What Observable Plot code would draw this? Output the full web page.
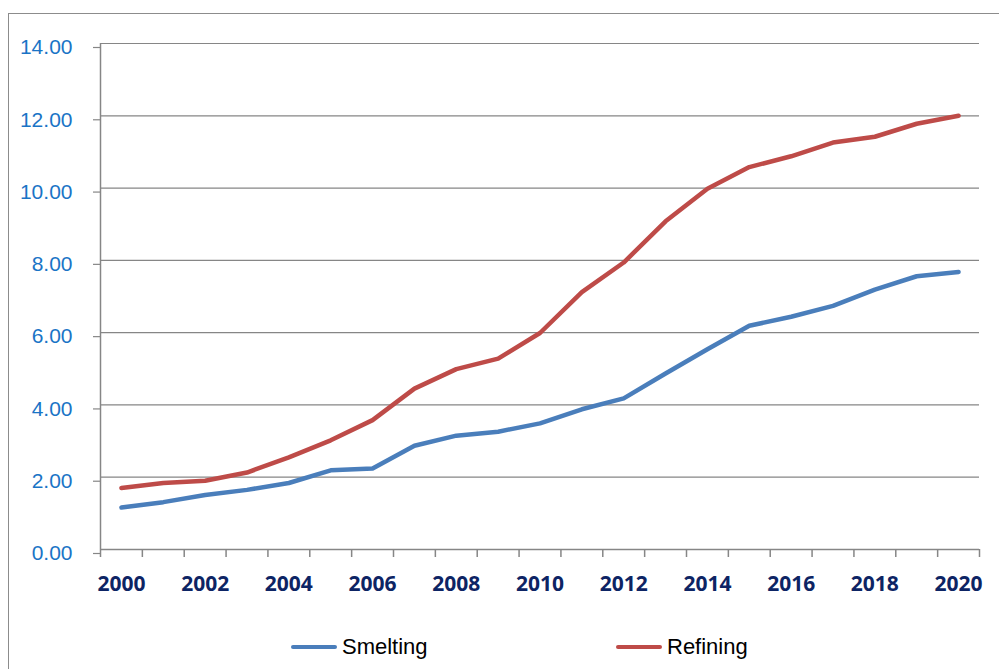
<!DOCTYPE html>
<html>
<head>
<meta charset="utf-8">
<script src="https://cdn.jsdelivr.net/npm/d3@7"></script>
<script src="https://cdn.jsdelivr.net/npm/@observablehq/plot@0.6"></script>
<style>
  html, body { margin: 0; padding: 0; background: #fff; overflow: hidden; }
  body { width: 999px; height: 669px; position: relative; }
  #frame {
    position: absolute; left: 8px; top: 13px; width: 1200px; height: 800px;
    border-left: 1.5px solid #8c8c8c; border-top: 1.5px solid #8c8c8c;
    box-sizing: border-box;
  }
  #chart { position: absolute; left: 0; top: -3px; }
  #chart svg { display: block; }
  .legend {
    position: absolute; top: 635px; left: 0; width: 999px; height: 30px;
    font-family: "Liberation Sans", Arial, sans-serif; font-size: 22px; color: #000;
  }
  .legend .item { position: absolute; top: 0; display: flex; align-items: center; height: 24px; }
  .legend .sw { display: inline-block; width: 46px; height: 4.5px; border-radius: 2px; margin-right: 5px; }
</style>
</head>
<body>
<div id="frame"></div>
<div id="chart"></div>
<div class="legend">
  <div class="item" style="left:291px"><span class="sw" style="background:#4a7ebb"></span>Smelting</div>
  <div class="item" style="left:616px"><span class="sw" style="background:#be4b48"></span>Refining</div>
</div>
<script>
// Years on the category axis
const years = d3.range(2000, 2021);
// Smelting capacity series
const smelting = [1.16, 1.31, 1.51, 1.65, 1.84, 2.19, 2.24, 2.87, 3.15, 3.26, 3.49,
                  3.88, 4.18, 4.87, 5.54, 6.19, 6.44, 6.74, 7.19, 7.56, 7.68];
// Refining capacity series
const refining = [1.70, 1.84, 1.90, 2.13, 2.55, 3.02, 3.58, 4.45, 4.99, 5.28, 5.99,
                  7.12, 7.94, 9.08, 9.98, 10.58, 10.88, 11.26, 11.42, 11.78, 12.00];
// Axis ticks
const yTicks = [0, 2, 4, 6, 8, 10, 12, 14];
const xLabelYears = [2000, 2002, 2004, 2006, 2008, 2010, 2012, 2014, 2016, 2018, 2020];

const rows = [
  ...years.map((y, i) => ({year: y, value: smelting[i], series: "Smelting"})),
  ...years.map((y, i) => ({year: y, value: refining[i], series: "Refining"}))
];

// tick marks fall between categories, like a category axis
const boundaries = d3.range(years.length + 1).map(i => years[0] - 0.5 + i);

const grid = "#868686";

const chart = Plot.plot({
  width: 999,
  height: 615,
  marginLeft: 100,
  marginRight: 20,
  marginTop: 46,
  marginBottom: 63,
  style: {background: "transparent", overflow: "visible"},
  x: {domain: [years[0] - 0.5, years[years.length - 1] + 0.5]},
  y: {domain: [0, 14]},
  color: {domain: ["Smelting", "Refining"], range: ["#4a7ebb", "#be4b48"]},
  marks: [
    Plot.gridY(yTicks, {stroke: grid, strokeOpacity: 1, strokeWidth: 1.2}),
    Plot.ruleX([years[0] - 0.5], {stroke: grid, strokeWidth: 1.5}),
    Plot.ruleY([0], {stroke: grid, strokeWidth: 1.5}),
    Plot.axisY(yTicks, {
      tickSize: 7, tickPadding: 21, stroke: grid, strokeWidth: 1.2,
      tickFormat: d3.format(".2f"), label: null,
      fill: "#1a74c6", fontSize: 21, fontFamily: "Liberation Sans, Arial, sans-serif",
      dy: 4
    }),
    Plot.axisX(boundaries, {
      tickSize: 8, stroke: grid, strokeWidth: 1.5, tickFormat: () => "", label: null
    }),
    Plot.axisX(xLabelYears, {
      tickSize: 0, tickPadding: 27, tickFormat: d => String(d), label: null,
      fill: "#0d2464", fontSize: 21, fontWeight: 700, fontFamily: "Open Sans, sans-serif"
    }),
    Plot.line(rows, {
      x: "year", y: "value", z: "series", stroke: "series",
      strokeWidth: 4.5, strokeLinecap: "round", strokeLinejoin: "round"
    })
  ]
});

document.getElementById("chart").append(chart);
</script>
</body>
</html>
